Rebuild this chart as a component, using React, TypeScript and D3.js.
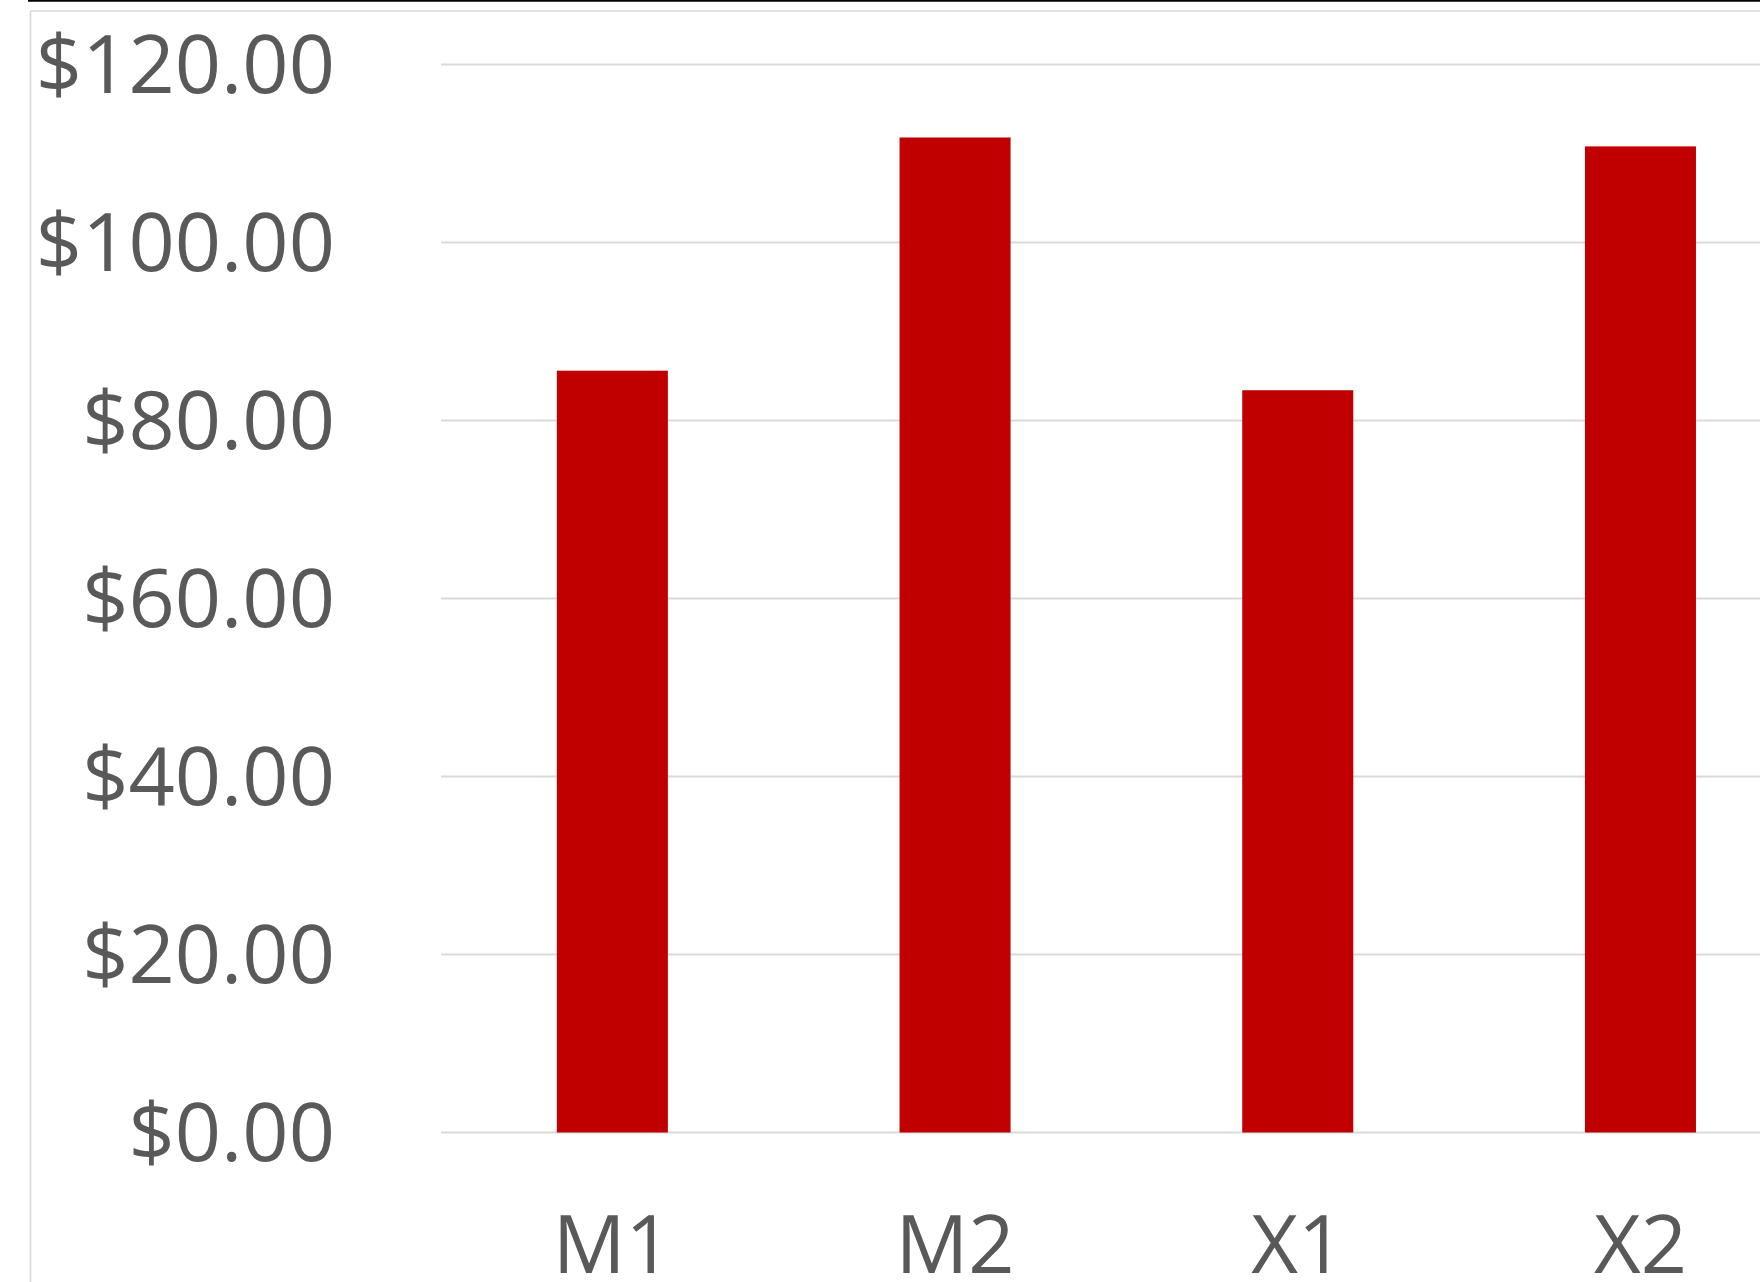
import React from "react";
import * as d3 from "d3";

// Chart data
const categories = ["M1", "M2", "X1", "X2"];
const prices = [85.6, 111.8, 83.4, 110.8];
const yTicks = [0, 20, 40, 60, 80, 100, 120];

const WIDTH = 1760;
const HEIGHT = 1282;

export default function App() {
  const y = d3.scaleLinear().domain([0, 120]).range([1132.5, 64.5]);
  const x = d3
    .scaleBand<string>()
    .domain(categories)
    .range([441, 1811.8])
    .paddingInner(0.676)
    .paddingOuter(0.338);
  const fmt = d3.format("$,.2f");
  const font = "'Open Sans', Lato, sans-serif";

  return (
    <svg
      width={WIDTH}
      height={HEIGHT}
      style={{ position: "absolute", left: 0, top: 0, display: "block", background: "#fff" }}
    >
      {/* frame */}
      <line x1={28} x2={WIDTH} y1={0.8} y2={0.8} stroke="#000" strokeWidth={1.8} />
      <line x1={30.5} x2={WIDTH} y1={11} y2={11} stroke="#d9d9d9" strokeWidth={1.6} />
      <line x1={30.5} x2={30.5} y1={11} y2={HEIGHT} stroke="#d9d9d9" strokeWidth={1.6} />

      {/* gridlines */}
      {yTicks.map((t) => (
        <line
          key={"g" + t}
          x1={441}
          x2={WIDTH}
          y1={y(t)}
          y2={y(t)}
          stroke="#d9d9d9"
          strokeWidth={2}
        />
      ))}

      {/* y labels */}
      {yTicks.map((t) => (
        <text
          key={"t" + t}
          x={335}
          y={y(t) + 28.5}
          textAnchor="end"
          fontFamily={font}
          fontSize={81}
          fill="#595959"
        >
          {fmt(t)}
        </text>
      ))}

      {/* bars */}
      {categories.map((c, i) => (
        <rect
          key={c}
          x={x(c)}
          y={y(prices[i])}
          width={x.bandwidth()}
          height={y(0) - y(prices[i])}
          fill="#c00000"
        />
      ))}

      {/* x labels */}
      {categories.map((c) => (
        <text
          key={"x" + c}
          x={(x(c) as number) + x.bandwidth() / 2}
          y={1273}
          textAnchor="middle"
          fontFamily={font}
          fontSize={81}
          fill="#595959"
        >
          {c}
        </text>
      ))}
    </svg>
  );
}
